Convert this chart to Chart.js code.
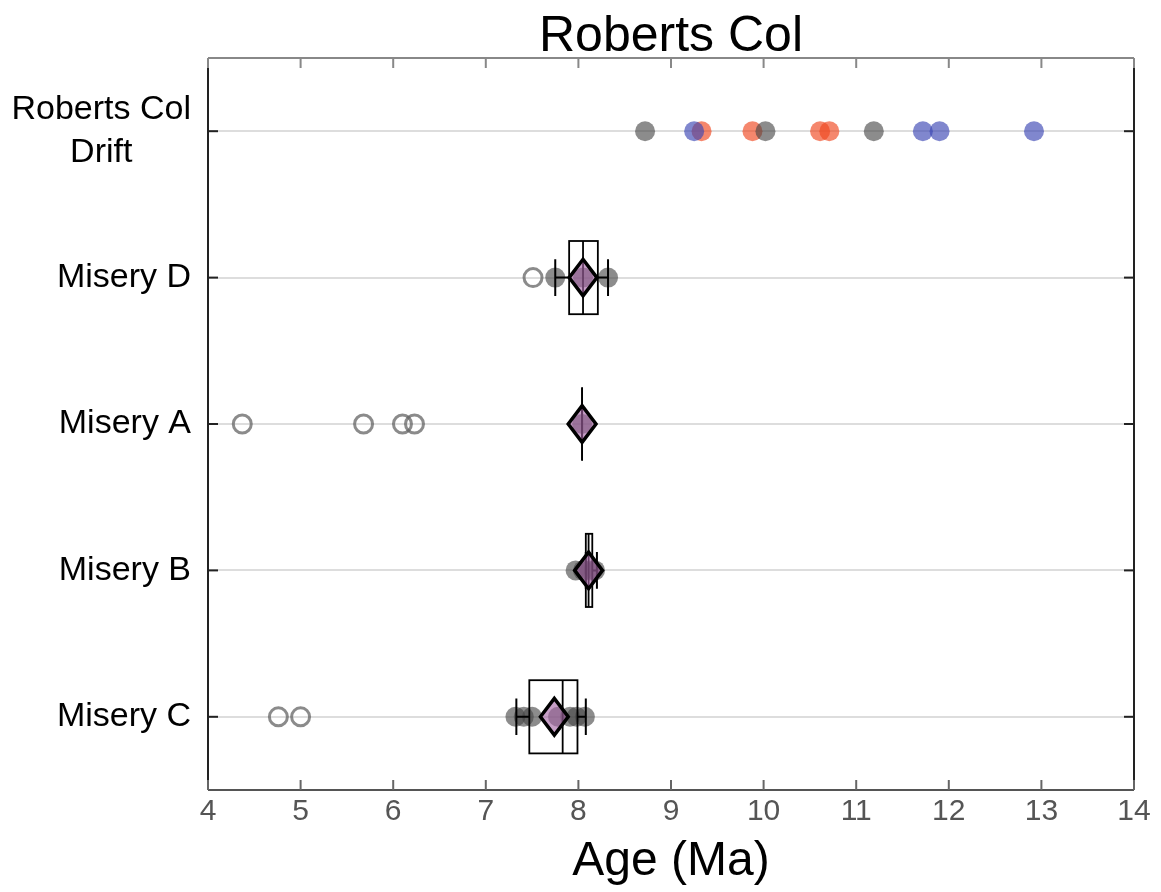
<!DOCTYPE html>
<html lang="en">
<head>
    <meta charset="UTF-8">
    <title>Roberts Col</title>
    <script src="https://cdn.jsdelivr.net/npm/chart.js"></script>
    <style>
        body { margin: 0; background: #fff; }
        #wrap { width: 1161px; height: 892px; }
    </style>
</head>
<body>
    <div id="wrap"><canvas id="ageChart"></canvas></div>

    <script>
        // Категории (снизу вверх, индекс = позиция по y)
        const categoryLabels = [['Misery C'], ['Misery B'], ['Misery A'], ['Misery D'], ['Roberts Col', 'Drift']];
        const xTicks = [4, 5, 6, 7, 8, 9, 10, 11, 12, 13, 14];

        // Roberts Col Drift
        const driftGray = [8.72, 10.02, 11.19];
        const driftOrange = [9.33, 9.88, 10.61, 10.71];
        const driftBlue = [9.25, 11.72, 11.90, 12.92];

        // Закрашенные точки (используемые)
        const usedC = [7.32, 7.41, 7.50, 7.78, 7.91, 7.98, 8.07];
        const usedB = [7.97, 8.05, 8.12, 8.18];
        const usedA = [8.04];
        const usedD = [7.75, 8.05, 8.32];

        // Пустые кружки (отброшенные)
        const rejectedC = [4.76, 5.00];
        const rejectedA = [4.37, 5.68, 6.10, 6.23];
        const rejectedD = [7.51];

        // Ящики: индексы 0..3 = Misery C, B, A, D
        const boxLow = [7.47, 8.08, 8.04, 7.90];
        const boxMedian = [7.83, 8.11, 8.04, 8.05];
        const boxHigh = [7.99, 8.15, 8.04, 8.21];
        const whiskerLow = [7.33, 8.08, 8.04, 7.75];
        const whiskerHigh = [8.08, 8.20, 8.04, 8.32];
        const meanAge = [7.74, 8.11, 8.04, 8.05];

        const pts = (arr, y) => arr.map(v => ({ x: v, y: y }));

        const grayFill = 'rgba(70, 70, 70, 0.62)';
        const openStroke = 'rgba(100, 100, 100, 0.75)';
        const fontFamily = '"Liberation Sans", Arial, sans-serif';

        function filled(data, color) {
            return { data: data, backgroundColor: color, borderWidth: 0, pointRadius: 10, pointHoverRadius: 10 };
        }
        function open(data) {
            return { data: data, backgroundColor: 'rgba(0,0,0,0)', borderColor: openStroke, borderWidth: 3, pointRadius: 9, pointHoverRadius: 9 };
        }

        // Ящики, усы и ромбы средних
        const boxPlugin = {
            id: 'boxes',
            afterDatasetsDraw(chart) {
                const ctx = chart.ctx, xs = chart.scales.x, ys = chart.scales.y;
                const X = v => xs.getPixelForValue(v), Y = v => ys.getPixelForValue(v);
                ctx.save();
                ctx.strokeStyle = '#000';
                for (let i = 0; i < boxLow.length; i++) {
                    const yc = Y(i), yT = Y(i + 0.25), yB = Y(i - 0.25);
                    const cT = Y(i + 0.125), cB = Y(i - 0.125);
                    // усы
                    ctx.lineWidth = 2;
                    ctx.beginPath();
                    ctx.moveTo(X(whiskerLow[i]), yc); ctx.lineTo(X(boxLow[i]), yc);
                    ctx.moveTo(X(boxHigh[i]), yc); ctx.lineTo(X(whiskerHigh[i]), yc);
                    ctx.moveTo(X(whiskerLow[i]), cT); ctx.lineTo(X(whiskerLow[i]), cB);
                    ctx.moveTo(X(whiskerHigh[i]), cT); ctx.lineTo(X(whiskerHigh[i]), cB);
                    ctx.stroke();
                    // ящик
                    ctx.lineWidth = 1.8;
                    ctx.strokeRect(X(boxLow[i]), yT, X(boxHigh[i]) - X(boxLow[i]), yB - yT);
                    ctx.beginPath();
                    ctx.moveTo(X(boxMedian[i]), yT); ctx.lineTo(X(boxMedian[i]), yB);
                    ctx.stroke();
                    // ромб
                    ctx.beginPath();
                    ctx.moveTo(X(meanAge[i] - 0.15), yc);
                    ctx.lineTo(X(meanAge[i]), cT);
                    ctx.lineTo(X(meanAge[i] + 0.15), yc);
                    ctx.lineTo(X(meanAge[i]), cB);
                    ctx.closePath();
                    ctx.fillStyle = 'rgba(165, 100, 165, 0.62)';
                    ctx.fill();
                    ctx.lineWidth = 3.5;
                    ctx.lineJoin = 'miter';
                    ctx.stroke();
                }
                ctx.restore();
            }
        };

        // Рамка, внутренние засечки и подписи категорий
        const framePlugin = {
            id: 'frame',
            afterDraw(chart) {
                const ctx = chart.ctx, a = chart.chartArea, xs = chart.scales.x, ys = chart.scales.y;
                ctx.save();
                ctx.lineWidth = 2;
                const line = (x1, y1, x2, y2, c) => {
                    ctx.strokeStyle = c; ctx.beginPath(); ctx.moveTo(x1, y1); ctx.lineTo(x2, y2); ctx.stroke();
                };
                line(a.left, a.top, a.right, a.top, '#888');
                line(a.left, a.bottom, a.right, a.bottom, '#555');
                line(a.left, a.top, a.left, a.bottom, '#222');
                line(a.right, a.top, a.right, a.bottom, '#222');
                xTicks.forEach(v => {
                    const px = xs.getPixelForValue(v);
                    line(px, a.bottom, px, a.bottom - 10, '#666');
                    line(px, a.top, px, a.top + 10, '#888');
                });
                ctx.font = '34px ' + fontFamily;
                ctx.fillStyle = '#000';
                ctx.textBaseline = 'middle';
                ctx.textAlign = 'center';
                categoryLabels.forEach((lines, i) => {
                    const py = ys.getPixelForValue(i);
                    line(a.left, py, a.left + 10, py, '#222');
                    line(a.right, py, a.right - 10, py, '#222');
                    const w = Math.max(...lines.map(t => ctx.measureText(t).width));
                    const cx = a.left - 17 - w / 2;
                    lines.forEach((t, k) => {
                        ctx.fillText(t, cx, py + (k - (lines.length - 1) / 2) * 43);
                    });
                });
                ctx.restore();
            }
        };

        const ctx1 = document.getElementById('ageChart').getContext('2d');
        const ageChart = new Chart(ctx1, {
            type: 'scatter',
            data: {
                datasets: [
                    filled(pts(usedC, 0), grayFill),
                    filled(pts(usedB, 1), grayFill),
                    filled(pts(usedA, 2), grayFill),
                    filled(pts(usedD, 3), grayFill),
                    open(pts(rejectedC, 0)),
                    open(pts(rejectedA, 2)),
                    open(pts(rejectedD, 3)),
                    filled(pts(driftGray, 4), grayFill),
                    filled(pts(driftBlue, 4), 'rgba(60, 70, 180, 0.65)'),
                    filled(pts(driftOrange, 4), 'rgba(240, 70, 30, 0.65)')
                ]
            },
            options: {
                responsive: true,
                maintainAspectRatio: false,
                animation: false,
                layout: { padding: { left: 0, right: 27, top: 0, bottom: 0 } },
                plugins: {
                    legend: { display: false },
                    tooltip: { enabled: false },
                    title: {
                        display: true,
                        text: 'Roberts Col',
                        fullSize: false,
                        color: '#000',
                        font: { family: fontFamily, size: 50, weight: 'normal', lineHeight: 1.0 },
                        padding: { top: 12, bottom: -4 }
                    }
                },
                scales: {
                    x: {
                        type: 'linear',
                        min: 4,
                        max: 14,
                        afterFit: s => { s.height = 102; },
                        afterBuildTicks: s => { s.ticks = xTicks.map(v => ({ value: v })); },
                        grid: { display: false, drawTicks: false },
                        border: { display: false },
                        ticks: {
                            color: '#555',
                            padding: 4,
                            font: { family: fontFamily, size: 30 }
                        },
                        title: {
                            display: true,
                            text: 'Age (Ma)',
                            color: '#000',
                            padding: { top: 0, bottom: 1 },
                            font: { family: fontFamily, size: 48 }
                        }
                    },
                    y: {
                        type: 'linear',
                        min: -0.5,
                        max: 4.5,
                        afterFit: s => { s.width = 208; },
                        afterBuildTicks: s => { s.ticks = categoryLabels.map((c, i) => ({ value: i })); },
                        grid: { color: '#dddddd', lineWidth: 2, drawTicks: false },
                        border: { display: false },
                        ticks: { display: false }
                    }
                }
            },
            plugins: [boxPlugin, framePlugin]
        });
    </script>
</body>
</html>
